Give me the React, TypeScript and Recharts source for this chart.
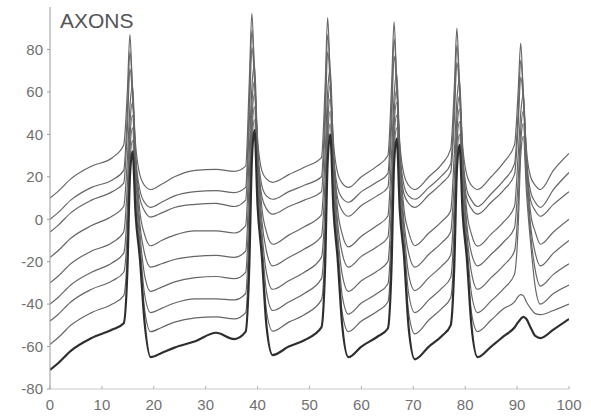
import React from 'react';
import { LineChart, Line, XAxis, YAxis } from 'recharts';

const title = 'AXONS';
const xTicks = [0, 10, 20, 30, 40, 50, 60, 70, 80, 90, 100];
const yTicks = [-80, -60, -40, -20, 0, 20, 40, 60, 80];

const times = [
  0, 1.5, 4, 8, 12,
  14.2, 14.9, 15.4, 15.9, 16.5, 17.3, 18.2, 19.4,
  21.5, 24, 28, 32, 35.5,
  37.7, 38.4, 38.9, 39.4, 40.0, 40.8, 41.7, 42.9,
  46, 49,
  52.3, 53.0, 53.5, 54.0, 54.6, 55.4, 56.3, 57.5,
  60, 63,
  65.1, 65.8, 66.3, 66.8, 67.4, 68.2, 69.1, 70.3,
  73, 75.5,
  77.2, 77.9, 78.4, 78.9, 79.5, 80.3, 81.2, 82.4,
  85, 87.5,
  89.5, 90.2, 90.7, 91.2, 91.8, 92.6, 93.5, 94.5,
  97, 100,
];

const trace1 = [
  10, 13, 19, 25, 29,
  35, 60, 87, 60, 35, 21, 16, 14,
  16.5, 20, 23, 23.5, 22.5,
  25, 65, 97, 68, 38, 23, 19, 17.4,
  21, 24.5,
  29, 62, 95, 66, 37, 22, 17, 15,
  20, 25,
  30, 62, 93, 64, 36, 21, 16, 14,
  20, 26,
  33, 62, 90, 62, 35, 21, 16, 14,
  20, 27,
  35, 60, 83, 58, 33, 20, 16, 14,
  23, 31,
];

const trace2 = [
  0, 3, 9, 15, 18.5,
  23, 50, 79, 62, 30, 14, 8, 5.6,
  8, 11, 13, 13.5, 12.5,
  15, 55, 89, 70, 34, 16, 11, 9.4,
  13, 16,
  20, 52, 87, 68, 33, 15, 10, 8,
  13, 17.5,
  21.5, 52, 85, 66, 33, 16, 11, 9.4,
  15, 20.5,
  26, 54, 82, 64, 32, 14, 9, 6,
  12, 18.5,
  26, 50, 75, 60, 30, 13, 8, 5.6,
  14, 22,
];

const trace3 = [
  -6, -3, 3, 9, 13,
  17, 42, 71, 58, 28, 10, 4, 1,
  3, 5.5, 7, 7.5, 6,
  9, 46, 81, 66, 31, 11, 5, 2.4,
  6, 9,
  13, 44, 79, 64, 30, 10, 4, 1.4,
  6.5, 11,
  15, 44, 77, 62, 30, 12, 7.5, 5.6,
  11.5, 17,
  22, 47, 74, 60, 29, 10, 5, 2.4,
  8, 14,
  21, 44, 67, 56, 27, 9, 4, 1.4,
  7, 13,
];

const trace4 = [
  -18, -15, -9, -3, 1.5,
  6, 28, 53, 63, 30, 4, -7, -12.5,
  -10, -7.5, -5.5, -5.5, -6.5,
  -3, 32, 62, 73, 34, 6, -6, -11.8,
  -7.5, -3.5,
  2, 30, 60, 71, 33, 5, -7, -13,
  -8, -3,
  1.5, 30, 58, 69, 32, 5, -6, -12.5,
  -6.5, -1,
  4, 31, 56, 66, 31, 4, -7, -12.7,
  -7, -1,
  6, 30, 50, 59, 29, 3, -6, -11.8,
  -6, 0,
];

const trace5 = [
  -30, -27, -21, -15, -11,
  -6, 16, 45, 55, 26, -2, -16, -22.6,
  -21, -19, -17.5, -17, -18,
  -15, 20, 54, 65, 30, 0, -15, -22,
  -18, -14,
  -8, 18, 52, 63, 29, -1, -16, -22.6,
  -17.5, -13,
  -8.5, 18, 50, 61, 28, -1, -16, -22.6,
  -16.5, -11,
  -6, 19, 48, 58, 27, -2, -16, -22,
  -16.5, -10.5,
  -4, 18, 42, 51, 25, -3, -16, -22,
  -16, -10,
];

const trace6 = [
  -40, -37, -31, -25, -20.5,
  -16, 5, 38, 49, 20, -6, -26, -34,
  -32, -29.5, -27.5, -27, -28,
  -25, 8, 46, 59, 24, -5, -25, -33,
  -29, -25,
  -18, 7, 45, 57, 23, -6, -26, -34,
  -29, -24.5,
  -20, 7, 44, 55, 22, -5, -26, -33.6,
  -27.5, -22,
  -17, 8, 41, 52, 21, -6, -25, -33,
  -27.5, -21.5,
  -15, 6, 36, 45, 19, -7, -24, -31.5,
  -26, -21,
];

const trace7 = [
  -48, -45, -39, -33, -29,
  -25, -5, 32, 43, 14, -10, -35, -44,
  -42, -39.5, -37.5, -37.5, -38,
  -35, -2, 40, 53, 18, -9, -34, -43,
  -39, -35,
  -28, -3, 39, 51, 17, -10, -36, -44.7,
  -39.5, -35,
  -30.5, -3, 38, 49, 16, -9, -35, -44,
  -38, -32.5,
  -27.5, -2, 35, 46, 15, -10, -35, -44,
  -38.5, -32.5,
  -26, -4, 30, 39, 13, -11, -32, -40,
  -35, -31,
];

const trace8 = [
  -59, -56, -50, -44, -40,
  -36, -15, 26, 37, 8, -14, -42, -53,
  -51, -48.5, -46.5, -46, -47,
  -44, -12, 34, 47, 12, -13, -43, -52.7,
  -48.5, -45,
  -38, -13, 33, 45, 11, -14, -44, -53,
  -48, -43.5,
  -39, -13, 32, 43, 10, -13, -44, -54,
  -47.5, -42,
  -37, -12, 29, 40, 9, -14, -44, -53,
  -47.5, -42,
  -39, -36.5, -35.5, -36, -39, -42, -44.5, -45,
  -43, -40,
];

const trace9 = [
  -71, -68, -62, -56, -52,
  -49, -25, 20, 32, 2, -18, -48, -65,
  -63, -60.5, -57.5, -53.5, -56.5,
  -53, -22, 28, 42, 6, -17, -50, -64,
  -60, -57,
  -51, -23, 27, 40, 5, -18, -50, -65,
  -60, -55.5,
  -51.5, -23, 26, 38, 4, -17, -51, -66,
  -60, -55,
  -50, -22, 23, 35, 3, -18, -50, -65,
  -60, -55,
  -51, -48.5, -47, -46, -47, -51, -55, -56,
  -52, -47,
];

const traces = [trace1, trace2, trace3, trace4, trace5, trace6, trace7, trace8, trace9];

const rows = times.map((t, i) => {
  const r: Record<string, number> = { t };
  traces.forEach((tr, k) => {
    r['v' + k] = tr[i];
  });
  return r;
});

const font = "'Liberation Sans', Arial, Helvetica, sans-serif";

export default function App() {
  return (
    <div style={{ position: 'absolute', left: 0, top: 0, width: 591, height: 419, background: '#fff' }}>
      <LineChart width={591} height={419} data={rows} margin={{ top: 7, right: 22, bottom: 0, left: 0 }}>
        <XAxis
          dataKey="t"
          type="number"
          domain={[0, 100]}
          ticks={xTicks}
          interval={0}
          height={30}
          tickSize={-3}
          tickMargin={13}
          axisLine={{ stroke: '#c8c8c8' }}
          tickLine={{ stroke: '#b0b0b0' }}
          tick={{ fill: '#707070', fontSize: 15, fontFamily: font }}
          allowDataOverflow
        />
        <YAxis
          type="number"
          domain={[-80, 100]}
          ticks={yTicks}
          interval={0}
          width={50}
          tickSize={3}
          tickMargin={4}
          axisLine={{ stroke: '#9a9a9a' }}
          tickLine={{ stroke: '#9a9a9a' }}
          tick={{ fill: '#707070', fontSize: 15, fontFamily: font }}
          allowDataOverflow
        />
        {traces.map((_, k) => (
          <Line
            key={k}
            dataKey={'v' + k}
            type="monotone"
            dot={false}
            activeDot={false}
            stroke={k === 8 ? '#2e2e2e' : '#666666'}
            strokeWidth={k === 8 ? 2.2 : 1.2}
            isAnimationActive={false}
          />
        ))}
      </LineChart>
      <svg style={{ position: 'absolute', left: 0, top: 0, pointerEvents: 'none' }} width={591} height={419}>
        <text x={60} y={28} fontSize={21} fill="#555555" fontFamily={font}>
          {title}
        </text>
      </svg>
    </div>
  );
}
